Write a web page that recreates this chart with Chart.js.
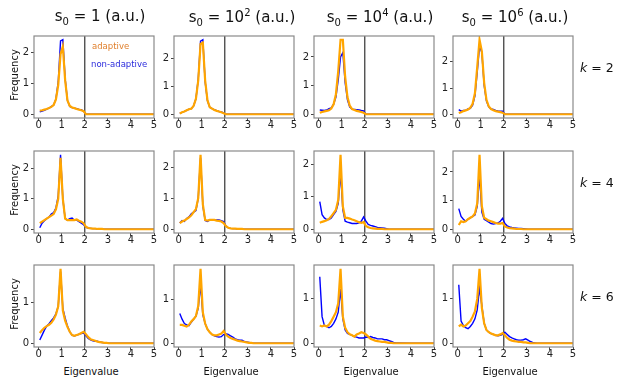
<!DOCTYPE html>
<html>
<head>
<meta charset="utf-8">
<script src="https://cdn.jsdelivr.net/npm/chart.js@4"></script>
<style>
  body { margin: 0; background: #fff; font-family: "DejaVu Sans", sans-serif; }
  #fig { position: relative; width: 617px; height: 382px; overflow: hidden; }
  canvas { position: absolute; }
  .txt { position: absolute; white-space: nowrap; color: #111; z-index: 2; }
  .title { font-size: 15px; transform: translate(-50%, -50%); }
  .title sub, .title sup { font-size: 10px; }
  .klab { font-size: 12.5px; transform: translateY(-50%); }
  .ylab { font-size: 10px; transform: translate(-50%, -50%) rotate(-90deg); }
  .xlab { font-size: 10px; transform: translate(-50%, -50%); }
  .leg { font-size: 8.5px; transform: translateY(-50%); }
</style>
</head>
<body>
<div id="fig"></div>
<script>
// --- Data (eigenvalue bins and frequencies) ---
const eigenvalues = [0.05, 0.15, 0.25, 0.35, 0.45, 0.55, 0.65, 0.75, 0.85, 0.95, 1.05, 1.15, 1.25, 1.35, 1.45, 1.55, 1.65, 1.75, 1.85, 1.95,
  2.05, 2.15, 2.25, 2.35, 2.45, 2.55, 2.65, 2.75, 2.85, 2.95, 3.05, 3.15, 3.25, 3.35, 3.45, 4.0, 5.0];

const columnTitles = ['s<sub>0</sub> = 1 (a.u.)', 's<sub>0</sub> = 10<sup>2</sup> (a.u.)', 's<sub>0</sub> = 10<sup>4</sup> (a.u.)', 's<sub>0</sub> = 10<sup>6</sup> (a.u.)'];
const rowLabels = ['2', '4', '6'];
const xTicks = [0, 1, 2, 3, 4, 5];
const yTicksByRow = [[0, 1, 2], [0, 1, 2], [0, 1]];
const threshold = 2;

// k = 2
const adaptive_k2_s1 = [0.12, 0.13, 0.15, 0.17, 0.2, 0.24, 0.3, 0.48, 0.95, 1.95, 2.2, 1.1, 0.45, 0.27, 0.22, 0.2, 0.17, 0.15, 0.13, 0.1, 0, 0, 0, 0, 0, 0, 0, 0, 0, 0, 0, 0, 0, 0, 0, 0, 0];
const nonadaptive_k2_s1 = [0.08, 0.1, 0.13, 0.17, 0.2, 0.25, 0.3, 0.5, 1.05, 2.38, 2.42, 1.15, 0.45, 0.25, 0.22, 0.2, 0.18, 0.16, 0.15, 0.1, 0, 0, 0, 0, 0, 0, 0, 0, 0, 0, 0, 0, 0, 0, 0, 0, 0];
const adaptive_k2_s2 = [0.03, 0.07, 0.1, 0.14, 0.18, 0.2, 0.3, 0.55, 1.2, 2.5, 2.55, 1.2, 0.5, 0.25, 0.2, 0.15, 0.12, 0.1, 0.07, 0.04, 0, 0, 0, 0, 0, 0, 0, 0, 0, 0, 0, 0, 0, 0, 0, 0, 0];
const nonadaptive_k2_s2 = [0.03, 0.07, 0.1, 0.14, 0.18, 0.2, 0.3, 0.55, 1.25, 2.6, 2.65, 1.15, 0.48, 0.25, 0.2, 0.16, 0.13, 0.1, 0.08, 0.05, 0, 0, 0, 0, 0, 0, 0, 0, 0, 0, 0, 0, 0, 0, 0, 0, 0];
const adaptive_k2_s4 = [0.05, 0.08, 0.1, 0.12, 0.14, 0.2, 0.35, 0.7, 1.5, 2.6, 2.6, 1.3, 0.6, 0.3, 0.18, 0.15, 0.12, 0.1, 0.08, 0.05, 0, 0, 0, 0, 0, 0, 0, 0, 0, 0, 0, 0, 0, 0, 0, 0, 0];
const nonadaptive_k2_s4 = [0.15, 0.14, 0.13, 0.15, 0.2, 0.22, 0.35, 0.6, 1.2, 2.0, 2.15, 1.1, 0.5, 0.25, 0.18, 0.17, 0.16, 0.15, 0.13, 0.12, 0, 0, 0, 0, 0, 0, 0, 0, 0, 0, 0, 0, 0, 0, 0, 0, 0];
const adaptive_k2_s6 = [0.05, 0.08, 0.12, 0.15, 0.18, 0.25, 0.4, 0.8, 1.8, 2.84, 2.4, 1.2, 0.55, 0.3, 0.2, 0.15, 0.12, 0.1, 0.08, 0.06, 0, 0, 0, 0, 0, 0, 0, 0, 0, 0, 0, 0, 0, 0, 0, 0, 0];
const nonadaptive_k2_s6 = [0.18, 0.12, 0.15, 0.15, 0.2, 0.22, 0.35, 0.7, 1.6, 2.6, 2.35, 1.1, 0.5, 0.28, 0.2, 0.18, 0.15, 0.13, 0.12, 0.12, 0, 0, 0, 0, 0, 0, 0, 0, 0, 0, 0, 0, 0, 0, 0, 0, 0];

// k = 4
const adaptive_k4_s1 = [0.2, 0.25, 0.3, 0.35, 0.4, 0.45, 0.5, 0.65, 1.0, 2.35, 1.0, 0.35, 0.3, 0.3, 0.3, 0.3, 0.32, 0.28, 0.25, 0.2, 0.08, 0.04, 0.03, 0.02, 0.02, 0.01, 0.01, 0.01, 0, 0, 0, 0, 0, 0, 0, 0, 0];
const nonadaptive_k4_s1 = [0.05, 0.2, 0.28, 0.35, 0.4, 0.5, 0.55, 0.7, 1.1, 2.45, 1.0, 0.35, 0.3, 0.35, 0.37, 0.3, 0.3, 0.25, 0.2, 0.15, 0.06, 0.04, 0.03, 0.02, 0.02, 0.01, 0.01, 0.01, 0, 0, 0, 0, 0, 0, 0, 0, 0];
const adaptive_k4_s2 = [0.2, 0.25, 0.28, 0.33, 0.38, 0.45, 0.55, 0.65, 1.0, 2.4, 0.8, 0.3, 0.28, 0.3, 0.3, 0.3, 0.28, 0.27, 0.25, 0.2, 0.1, 0.05, 0.03, 0.02, 0.02, 0.01, 0.01, 0.01, 0, 0, 0, 0, 0, 0, 0, 0, 0];
const nonadaptive_k4_s2 = [0.2, 0.28, 0.25, 0.35, 0.4, 0.5, 0.55, 0.6, 1.0, 2.3, 0.75, 0.28, 0.25, 0.3, 0.3, 0.3, 0.3, 0.3, 0.28, 0.25, 0.1, 0.05, 0.03, 0.02, 0.02, 0.01, 0.01, 0.01, 0, 0, 0, 0, 0, 0, 0, 0, 0];
const adaptive_k4_s4 = [0.2, 0.23, 0.25, 0.28, 0.32, 0.4, 0.5, 0.6, 0.9, 2.3, 0.7, 0.35, 0.35, 0.33, 0.3, 0.28, 0.25, 0.22, 0.2, 0.22, 0.1, 0.06, 0.04, 0.03, 0.02, 0.01, 0.01, 0.01, 0, 0, 0, 0, 0, 0, 0, 0, 0];
const nonadaptive_k4_s4 = [0.85, 0.45, 0.35, 0.3, 0.3, 0.35, 0.45, 0.55, 0.8, 1.75, 0.6, 0.25, 0.22, 0.2, 0.18, 0.18, 0.18, 0.2, 0.25, 0.38, 0.25, 0.15, 0.12, 0.1, 0.08, 0.06, 0.05, 0.04, 0.03, 0.02, 0, 0, 0, 0, 0, 0, 0];
const adaptive_k4_s6 = [0.15, 0.28, 0.25, 0.28, 0.35, 0.4, 0.45, 0.55, 0.9, 2.6, 0.8, 0.4, 0.35, 0.3, 0.28, 0.25, 0.22, 0.2, 0.2, 0.22, 0.1, 0.06, 0.04, 0.03, 0.02, 0.01, 0.01, 0.01, 0, 0, 0, 0, 0, 0, 0, 0, 0];
const nonadaptive_k4_s6 = [0.72, 0.45, 0.35, 0.28, 0.35, 0.4, 0.45, 0.5, 0.8, 1.9, 0.6, 0.35, 0.3, 0.25, 0.2, 0.18, 0.2, 0.22, 0.28, 0.38, 0.2, 0.12, 0.08, 0.06, 0.05, 0.04, 0.03, 0.03, 0.02, 0.01, 0, 0, 0, 0, 0, 0, 0];

// k = 6
const adaptive_k6_s1 = [0.25, 0.32, 0.38, 0.42, 0.45, 0.5, 0.58, 0.7, 0.9, 1.82, 0.8, 0.55, 0.4, 0.28, 0.2, 0.18, 0.2, 0.22, 0.25, 0.28, 0.22, 0.15, 0.1, 0.08, 0.06, 0.04, 0.03, 0.02, 0.01, 0.01, 0, 0, 0, 0, 0, 0, 0];
const nonadaptive_k6_s1 = [0.08, 0.2, 0.32, 0.42, 0.48, 0.55, 0.62, 0.72, 0.9, 1.75, 0.85, 0.62, 0.42, 0.28, 0.2, 0.18, 0.2, 0.22, 0.24, 0.25, 0.18, 0.12, 0.08, 0.06, 0.05, 0.05, 0.03, 0.02, 0.01, 0.01, 0, 0, 0, 0, 0, 0, 0];
const adaptive_k6_s2 = [0.42, 0.42, 0.4, 0.38, 0.42, 0.5, 0.55, 0.62, 0.85, 1.7, 0.7, 0.45, 0.32, 0.25, 0.2, 0.18, 0.18, 0.2, 0.22, 0.28, 0.2, 0.15, 0.12, 0.1, 0.08, 0.06, 0.05, 0.04, 0.03, 0.02, 0.01, 0.01, 0, 0, 0, 0, 0];
const nonadaptive_k6_s2 = [0.68, 0.55, 0.45, 0.42, 0.4, 0.48, 0.55, 0.62, 0.8, 1.35, 0.65, 0.45, 0.32, 0.25, 0.2, 0.17, 0.15, 0.14, 0.15, 0.2, 0.22, 0.2, 0.17, 0.14, 0.1, 0.08, 0.07, 0.07, 0.04, 0.03, 0.02, 0.01, 0, 0, 0, 0, 0];
const adaptive_k6_s4 = [0.4, 0.38, 0.4, 0.38, 0.42, 0.5, 0.6, 0.7, 0.9, 1.68, 0.6, 0.35, 0.25, 0.2, 0.18, 0.15, 0.2, 0.22, 0.25, 0.23, 0.2, 0.15, 0.1, 0.08, 0.06, 0.05, 0.04, 0.03, 0.03, 0.02, 0.01, 0.01, 0, 0, 0, 0, 0];
const nonadaptive_k6_s4 = [1.5, 0.6, 0.4, 0.38, 0.35, 0.38, 0.45, 0.55, 0.7, 1.22, 0.55, 0.3, 0.22, 0.2, 0.18, 0.15, 0.14, 0.12, 0.12, 0.12, 0.14, 0.13, 0.15, 0.13, 0.12, 0.1, 0.1, 0.1, 0.08, 0.08, 0.06, 0.04, 0.02, 0.01, 0.01, 0, 0];
const adaptive_k6_s6 = [0.38, 0.42, 0.38, 0.4, 0.45, 0.5, 0.6, 0.72, 1.0, 1.68, 0.8, 0.45, 0.3, 0.25, 0.22, 0.2, 0.18, 0.18, 0.2, 0.23, 0.18, 0.12, 0.08, 0.06, 0.05, 0.04, 0.03, 0.03, 0.02, 0.02, 0.01, 0, 0, 0, 0, 0, 0];
const nonadaptive_k6_s6 = [1.32, 0.5, 0.4, 0.35, 0.33, 0.38, 0.45, 0.55, 0.75, 1.25, 0.85, 0.45, 0.3, 0.25, 0.22, 0.2, 0.18, 0.17, 0.18, 0.2, 0.25, 0.2, 0.15, 0.12, 0.1, 0.08, 0.07, 0.07, 0.08, 0.1, 0.07, 0.04, 0.02, 0.01, 0, 0, 0];

// grid of panels: rows = k, columns = s0
const panels = [
  [[adaptive_k2_s1, nonadaptive_k2_s1], [adaptive_k2_s2, nonadaptive_k2_s2], [adaptive_k2_s4, nonadaptive_k2_s4], [adaptive_k2_s6, nonadaptive_k2_s6]],
  [[adaptive_k4_s1, nonadaptive_k4_s1], [adaptive_k4_s2, nonadaptive_k4_s2], [adaptive_k4_s4, nonadaptive_k4_s4], [adaptive_k4_s6, nonadaptive_k4_s6]],
  [[adaptive_k6_s1, nonadaptive_k6_s1], [adaptive_k6_s2, nonadaptive_k6_s2], [adaptive_k6_s4, nonadaptive_k6_s4], [adaptive_k6_s6, nonadaptive_k6_s6]]
];

// --- Layout ---
const colLeft = [34, 174, 314, 453];
const rowTop = [36, 151, 265];
const plotW = 120, plotH = 82;
const padL = 18, padT = 10, padR = 6, padB = 16;
const titleX = [100, 242, 380, 515];

const fig = document.getElementById('fig');

// draws the box round the plot area
const framePlugin = {
  id: 'frame',
  afterDatasetsDraw(chart) {
    const { ctx, chartArea: a } = chart;
    ctx.save();
    ctx.strokeStyle = '#8a8a8a';
    ctx.lineWidth = 1.2;
    ctx.strokeRect(a.left, a.top, a.right - a.left, a.bottom - a.top);
    ctx.restore();
  }
};

function toPoints(values) {
  return eigenvalues.map((x, i) => ({ x: x, y: values[i] }));
}

function makePanel(r, c) {
  const [adaptive, nonadaptive] = panels[r][c];
  const peak = Math.max(...adaptive, ...nonadaptive);
  const yMin = -0.05 * peak, yMax = 1.05 * peak;

  const canvas = document.createElement('canvas');
  canvas.width = padL + plotW + padR;
  canvas.height = padT + plotH + padB;
  canvas.style.left = (colLeft[c] - padL) + 'px';
  canvas.style.top = (rowTop[r] - padT) + 'px';
  fig.appendChild(canvas);

  new Chart(canvas.getContext('2d'), {
    type: 'line',
    data: {
      datasets: [
        { data: toPoints(adaptive), borderColor: '#ffa500', borderWidth: 2.2, pointRadius: 0, tension: 0 },
        { data: toPoints(nonadaptive), borderColor: '#0000ff', borderWidth: 1.4, pointRadius: 0, tension: 0 },
        { data: [{ x: threshold, y: yMin }, { x: threshold, y: yMax }], borderColor: '#333', borderWidth: 1.2, pointRadius: 0 }
      ]
    },
    options: {
      responsive: false,
      animation: false,
      devicePixelRatio: 1,
      layout: { padding: { top: padT, right: padR, left: 0, bottom: 0 } },
      plugins: { legend: { display: false }, tooltip: { enabled: false } },
      scales: {
        x: {
          type: 'linear', min: -0.2, max: 5,
          afterFit: s => { s.height = padB; },
          afterBuildTicks: s => { s.ticks = xTicks.map(v => ({ value: v })); },
          grid: { drawOnChartArea: false, tickLength: 3, color: '#444' },
          border: { display: false },
          ticks: { padding: 0, color: '#222', font: { family: 'DejaVu Sans', size: 10, lineHeight: 0.8 }, maxRotation: 0 }
        },
        y: {
          type: 'linear', min: yMin, max: yMax,
          afterFit: s => { s.width = padL; },
          afterBuildTicks: s => { s.ticks = yTicksByRow[r].map(v => ({ value: v })); },
          grid: { drawOnChartArea: false, tickLength: 3, color: '#444' },
          border: { display: false },
          ticks: { padding: 2, color: '#222', font: { family: 'DejaVu Sans', size: 10 } }
        }
      }
    },
    plugins: [framePlugin]
  });
}

function addText(cls, html, x, y, color) {
  const d = document.createElement('div');
  d.className = 'txt ' + cls;
  d.innerHTML = html;
  d.style.left = x + 'px';
  d.style.top = y + 'px';
  if (color) d.style.color = color;
  fig.appendChild(d);
}

for (let r = 0; r < 3; r++) {
  for (let c = 0; c < 4; c++) makePanel(r, c);
}

columnTitles.forEach((t, c) => addText('title', t, titleX[c], 17));
rowLabels.forEach((k, r) => addText('klab', '<i>k</i> = ' + k, 580, rowTop[r] + plotH / 2 - 10));
rowTop.forEach(t => addText('ylab', 'Frequency', 14, t + plotH / 2 - 2));
colLeft.forEach(l => addText('xlab', 'Eigenvalue', l + plotW / 2 - 3, 371));
addText('leg', 'adaptive', 92, 46, '#e0802e');
addText('leg', 'non-adaptive', 91, 64, '#2b2bdc');
</script>
</body>
</html>
